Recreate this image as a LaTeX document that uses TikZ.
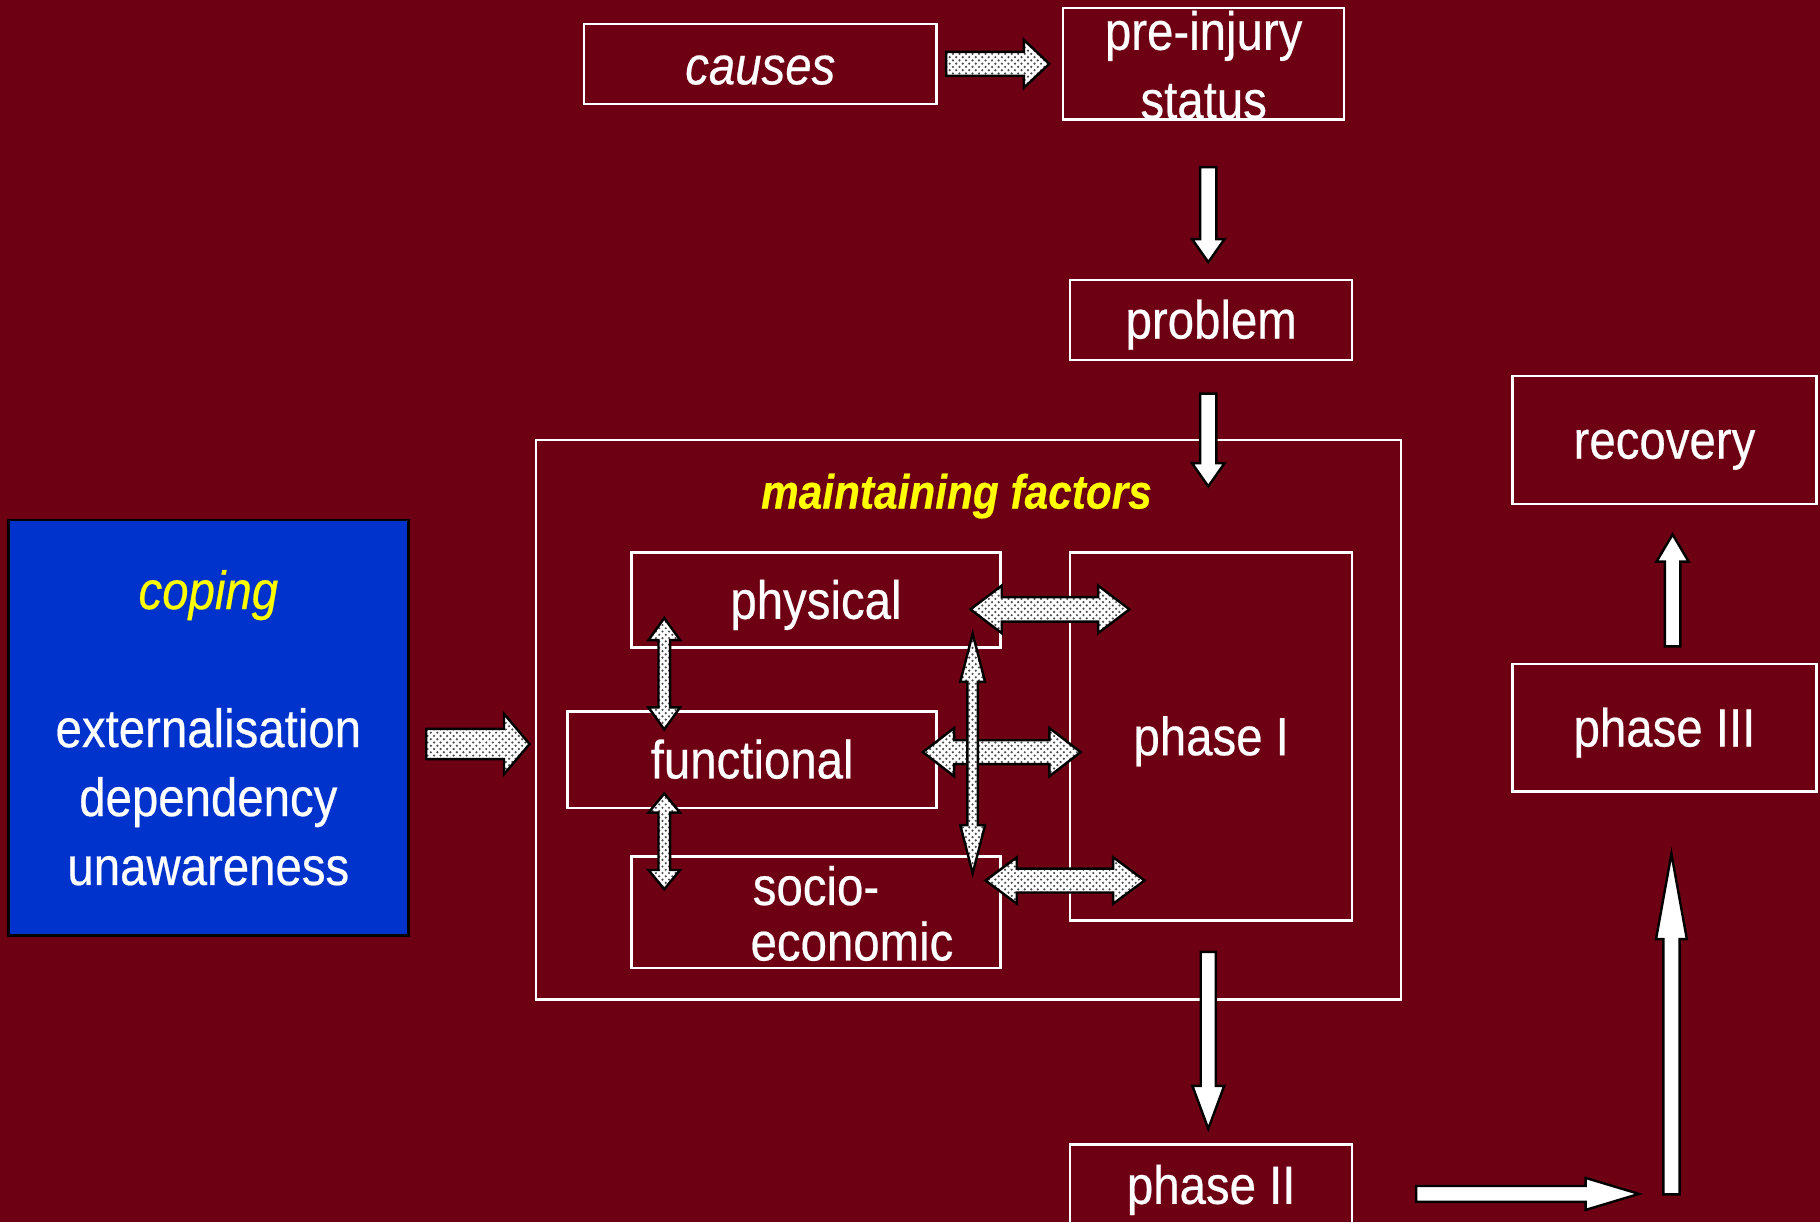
\documentclass[tikz,border=0pt]{standalone}
\usepackage{fontspec}
\setmainfont{Liberation Sans}[FakeStretch=0.88, FakeBold=0.4]
\usetikzlibrary{patterns.meta,calc}

\definecolor{bgred}{RGB}{110,0,20}
\definecolor{copeblue}{RGB}{0,51,204}
\definecolor{hiyellow}{RGB}{255,255,0}

% fine staggered dot screen used inside the block arrows
\tikzdeclarepattern{
  name=finedots,
  type=uncolored,
  bounding box={(-0.4pt,-0.4pt) and (1.2pt,1.2pt)},
  tile size={(1.6pt,1.6pt)},
  code={
    \fill (0pt,0pt) circle (0.3pt);
    \fill (0.8pt,0.8pt) circle (0.3pt);
  }
}

\newcommand\bodysize{\fontsize{13.2pt}{16.9pt}\selectfont}
\newcommand\titlesize{\fontsize{11.8pt}{14pt}\selectfont}

\begin{document}
\begin{tikzpicture}[x=0.1mm, y=-0.1mm,
  box/.style={draw=white, line width=0.6pt, inner sep=0pt},
  txt/.style={text=white, font=\bodysize, align=center, inner sep=0pt},
  label/.style={txt, text height=0.72em, text depth=0pt, yshift=-0.35mm},
  wharrow/.style={draw=black, fill=white, line width=0.6pt, line join=miter},
  dotarrow/.style={fill=white,
    postaction={pattern=finedots, pattern color=black!70},
    postaction={draw=black, line width=0.6pt, line join=miter}},
  % outline of a block arrow from the origin along +x:
  % length, shaft half width, head half width, head length
  oneheadpath/.style n args={4}{insert path={(0,-#2) -- ({#1-#4},-#2) -- ({#1-#4},-#3)
      -- (#1,0) -- ({#1-#4},#3) -- ({#1-#4},#2) -- (0,#2) -- cycle}},
  twoheadpath/.style n args={4}{insert path={(0,0) -- (#4,-#3) -- (#4,-#2) -- ({#1-#4},-#2)
      -- ({#1-#4},-#3) -- (#1,0) -- ({#1-#4},#3) -- ({#1-#4},#2) -- (#4,#2) -- (#4,#3) -- cycle}},
  pics/whiteone/.style n args={4}{code={\path[wharrow, oneheadpath={#1}{#2}{#3}{#4}];}},
  pics/dotone/.style n args={4}{code={\path[dotarrow, oneheadpath={#1}{#2}{#3}{#4}];}},
  pics/dottwo/.style n args={4}{code={\path[dotarrow, twoheadpath={#1}{#2}{#3}{#4}];}}
]
\useasboundingbox (0,0) rectangle (1568,1053);
\fill[bgred] (0,0) rectangle (1568,1053);

% boxes and their texts
\node[box, minimum width=30.4mm, minimum height=6.9mm] (causes) at (655,55) {};
\node[label] at ($(causes)+(0,1.5)$) {\itshape causes};
\node[box, minimum width=24.2mm, minimum height=9.6mm] (pre) at (1037,55) {};
\node[txt] at (1037,56) {pre-injury\\status};
\node[box, minimum width=24.3mm, minimum height=6.9mm] (problem) at (1043.5,275.5) {};
\node[label] at (problem) {problem};

\node[box, minimum width=74.5mm, minimum height=48.2mm] (maint) at (834.5,620) {};
\node[label, text=hiyellow, font=\titlesize\bfseries\itshape] (mtitle) at (824,422) {maintaining factors};

\node[box, minimum width=24.3mm, minimum height=31.7mm] (phaseI) at (1043.5,634.5) {};
\node[label] at (phaseI) {phase I};
\node[box, minimum width=31.8mm, minimum height=8.2mm] (physical) at (703,517) {};
\node[label] at (physical) {physical};
\node[box, minimum width=31.8mm, minimum height=8.3mm] (functional) at (648,654.5) {};
\node[label] at (functional) {functional};
\node[box, minimum width=31.8mm, minimum height=9.6mm] (socio) at (703,786) {};
\node[txt, font=\fontsize{13.2pt}{13.6pt}\selectfont] at (703,787) {socio-\\\hspace*{6.2mm}economic};

\node[draw=black, line width=0.7pt, fill=copeblue, minimum width=34.5mm, minimum height=35.8mm, inner sep=0pt] (coping) at (179.5,627) {};
\node[txt] at (179.5,627) {{\color{hiyellow}\itshape coping}\\[5.95mm]externalisation\\dependency\\unawareness};

\node[box, minimum width=26.2mm, minimum height=11mm] (recovery) at (1434,379) {};
\node[label] at (recovery) {recovery};
\node[box, minimum width=26.2mm, minimum height=11mm] (phaseIII) at (1434,627) {};
\node[label] at (phaseIII) {phase III};
\node[box, minimum width=24.3mm, minimum height=7mm] (phaseII) at (1043.5,1021) {};
\node[label] at (phaseII) {phase II};

% dotted block arrows
\pic at ($(causes.east)+(7,0)$) {dotone={89}{10.3}{20.7}{22}};
\pic at ($(coping.east)+(14,14)$) {dotone={89}{13}{26}{22}};
\pic at ($(physical.east)+(-27,8)$) {dottwo={137}{10.5}{20.5}{27}};
\pic at ($(functional.east)+(-13,-6.5)$) {dottwo={136}{10.3}{20.8}{27}};
\pic at ($(socio.east)+(-14,-27.4)$) {dottwo={137}{10.3}{20}{27}};
\pic[rotate=-90] at ($(physical.south)+(-130.7,-26.6)$) {dottwo={96}{5}{13.6}{19}};
\pic[rotate=-90] at ($(functional.south)+(-75.7,-13.4)$) {dottwo={82.4}{5}{13.6}{16.5}};
\pic[rotate=-90] at ($(physical.south)+(135,-13.1)$) {dottwo={206.5}{4.5}{10.7}{41.5}};

% plain white block arrows
\pic[rotate=-90] at ($(problem.north)+(-2.5,-96)$) {whiteone={82}{7}{14}{20}};
\pic[rotate=-90] at ($(problem.south)+(-2.5,28)$) {whiteone={80}{7}{14}{20}};
\pic[rotate=-90] at ($(phaseI.south)+(-2.5,26)$) {whiteone={152.5}{6.5}{13.7}{37}};
\pic at ($(phaseII.east)+(54,7.6)$) {whiteone={192}{6.8}{13.8}{46}};
\pic[rotate=90] at ($(phaseIII.south)+(6,346)$) {whiteone={293.5}{7}{13.3}{73.5}};
\pic[rotate=90] at ($(phaseIII.north)+(7,-14)$) {whiteone={96.5}{6.7}{13.9}{23.5}};
\end{tikzpicture}
\end{document}
